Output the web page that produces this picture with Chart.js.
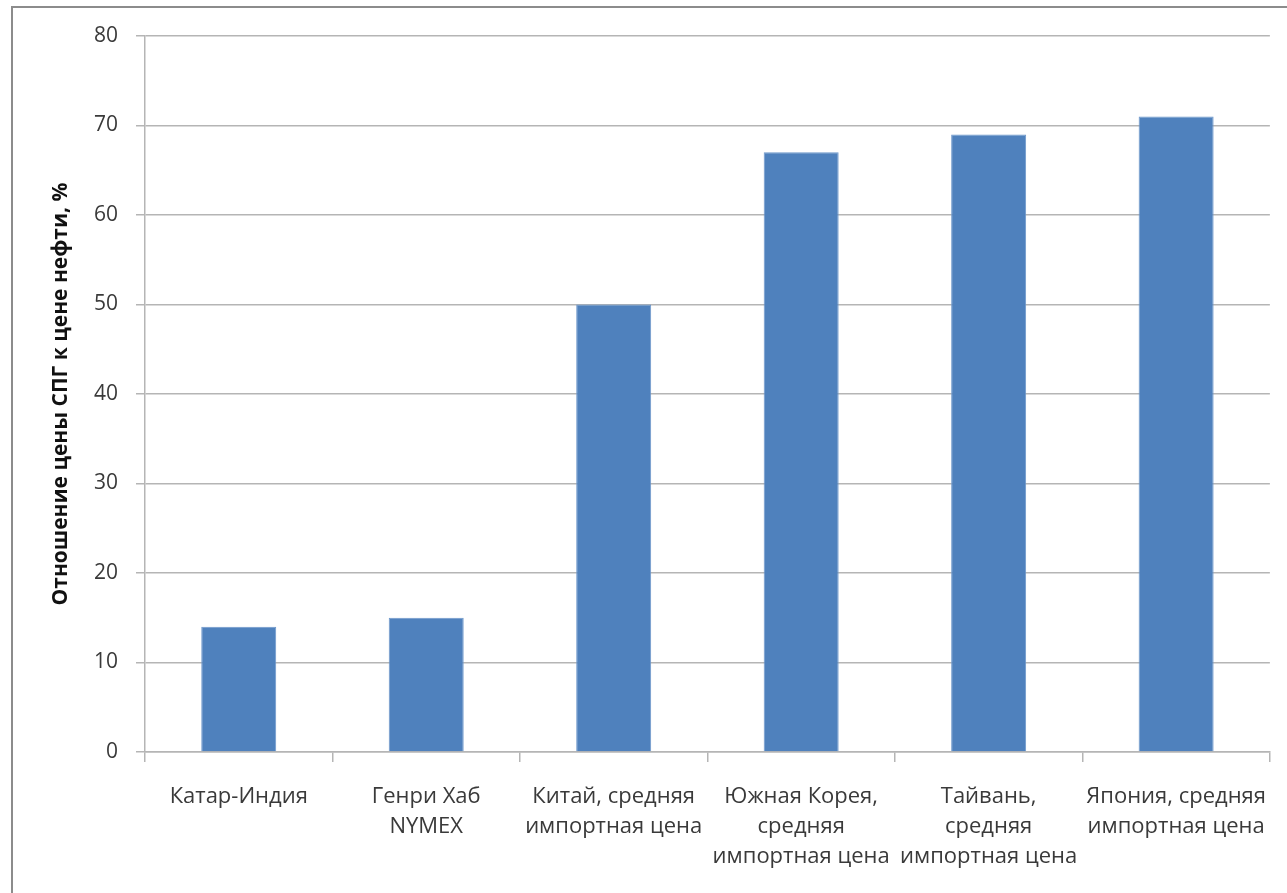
<!DOCTYPE html>
<html>
<head>
<meta charset="utf-8">
<script src="https://cdn.jsdelivr.net/npm/chart.js@4/dist/chart.umd.min.js"></script>
<style>
  html, body { margin: 0; padding: 0; background: #fff; overflow: hidden; }
  #wrap { position: relative; width: 1287px; height: 893px; }
</style>
</head>
<body>
<div id="wrap"><canvas id="chart"></canvas></div>
<script>
// DATA
const categories = [
  ["Катар-Индия"],
  ["Генри Хаб", "NYMEX"],
  ["Китай, средняя", "импортная цена"],
  ["Южная Корея,", "средняя", "импортная цена"],
  ["Тайвань,", "средняя", "импортная цена"],
  ["Япония, средняя", "импортная цена"]
];
const ratios = [14, 15, 50, 67, 69, 71];
const yTitle = "Отношение цены СПГ к цене нефти, %";

const FONT = "'Open Sans', 'Noto Sans', sans-serif";

// frame around the chart area (like the excel chart border)
const framePlugin = {
  id: "frame",
  beforeDraw(chart) {
    const ctx = chart.ctx;
    ctx.save();
    ctx.strokeStyle = "#8c8c8c";
    ctx.lineWidth = 2;
    ctx.strokeRect(12, 7, 2000, 2000);
    ctx.restore();
  }
};

new Chart(document.getElementById("chart"), {
  type: "bar",
  data: {
    labels: categories,
    datasets: [{
      data: ratios,
      backgroundColor: "#4f81bd",
      borderColor: "#6d97cb",
      borderWidth: 1,
      categoryPercentage: 1,
      barPercentage: 0.4
    }]
  },
  plugins: [framePlugin],
  options: {
    responsive: true,
    maintainAspectRatio: false,
    animation: false,
    layout: { padding: { left: 12, right: 13, top: 36, bottom: 0 } },
    plugins: { legend: { display: false }, tooltip: { enabled: false } },
    scales: {
      y: {
        min: 0,
        max: 80,
        ticks: {
          stepSize: 10,
          color: "#3a3a3a",
          padding: 18,
          font: { family: FONT, size: 21 }
        },
        grid: { color: "#b5b5b5", lineWidth: 1.5, tickLength: 9 },
        border: { color: "#b5b5b5", width: 1.5 },
        title: {
          display: true,
          text: yTitle,
          color: "#111",
          padding: { top: 36, bottom: 0 },
          font: { family: FONT, size: 21, weight: "bold" }
        },
        afterFit(scale) { scale.width = 133; }
      },
      x: {
        offset: true,
        ticks: {
          color: "#3a3a3a",
          padding: 20,
          maxRotation: 0,
          autoSkip: false,
          font: { family: FONT, size: 22, lineHeight: 1.36 }
        },
        grid: { offset: true, drawOnChartArea: false, color: "#b5b5b5", lineWidth: 1.5, tickLength: 10 },
        border: { color: "#b5b5b5", width: 1.5 },
        afterFit(scale) { scale.height = 141; }
      }
    }
  }
});
</script>
</body>
</html>
